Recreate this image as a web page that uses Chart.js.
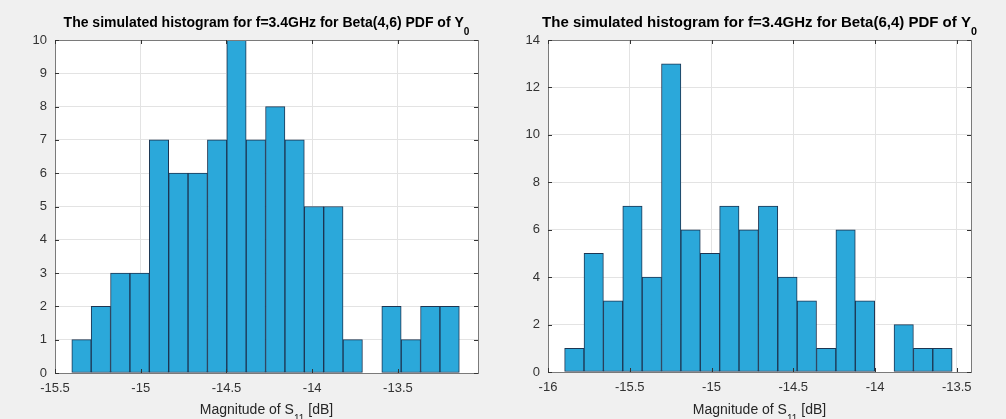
<!DOCTYPE html>
<html lang="en">
<head>
  <meta charset="UTF-8">
  <title>Simulated histograms</title>
  <script src="https://cdn.jsdelivr.net/npm/chart.js"></script>
  <style>
    body { margin: 0; background: #f0f0f0; font-family: "Liberation Sans", Arial, sans-serif; }
    .wrap { position: relative; width: 1006px; height: 419px; }
    .panel { position: absolute; top: 0; width: 503px; height: 419px; }
  </style>
</head>
<body>
  <div class="wrap">
    <div class="panel" style="left: 0;"><canvas id="histA" width="503" height="419"></canvas></div>
    <div class="panel" style="left: 503px;"><canvas id="histB" width="503" height="419"></canvas></div>
  </div>

  <script>
    // Beta(4,6) histogram: bin edges and counts
    const edgesA = [-15.402, -15.289, -15.176, -15.063, -14.950, -14.837, -14.724, -14.611, -14.498, -14.385,
                    -14.272, -14.159, -14.046, -13.933, -13.820, -13.707, -13.594, -13.481, -13.368, -13.255, -13.142];
    const countsA = [1, 2, 3, 3, 7, 6, 6, 7, 10, 7, 8, 7, 5, 5, 1, 0, 2, 1, 2, 2];
    const xTicksA = [-15.5, -15, -14.5, -14, -13.5];

    // Beta(6,4) histogram
    const edgesB = [-15.898, -15.780, -15.661, -15.543, -15.424, -15.306, -15.187, -15.069, -14.950, -14.832,
                    -14.713, -14.595, -14.476, -14.358, -14.239, -14.121, -14.002, -13.884, -13.765, -13.647, -13.528];
    const countsB = [1, 5, 3, 7, 4, 13, 6, 5, 7, 6, 7, 4, 3, 1, 6, 3, 0, 2, 1, 1];
    const xTicksB = [-16, -15.5, -15, -14.5, -14, -13.5];

    const FONT = '"Liberation Sans", Arial, sans-serif';

    // draws a line of text with subscript parts, centred on cx
    function drawSubText(ctx, parts, cx, y, size, bold, color) {
      const w = bold ? 'bold ' : '';
      let total = 0;
      parts.forEach(p => {
        ctx.font = w + (p.sub ? size * 0.72 : size) + 'px ' + FONT;
        p.w = ctx.measureText(p.t).width;
        total += p.w;
      });
      let x = cx - total / 2;
      ctx.fillStyle = color;
      ctx.textBaseline = 'alphabetic';
      ctx.textAlign = 'left';
      parts.forEach(p => {
        ctx.font = w + (p.sub ? size * 0.72 : size) + 'px ' + FONT;
        ctx.fillText(p.t, x, p.sub ? y + size * 0.55 : y);
        x += p.w;
      });
    }

    const matlabAxes = {
      id: 'matlabAxes',
      beforeDraw(chart) {
        const { ctx, chartArea: a } = chart;
        ctx.save();
        ctx.fillStyle = '#ffffff';
        ctx.fillRect(a.left, a.top, a.right - a.left, a.bottom - a.top);
        ctx.restore();
      },
      afterDraw(chart, args, opts) {
        const { ctx, chartArea: a, scales } = chart;
        ctx.save();
        ctx.strokeStyle = '#7a7a7a';
        ctx.lineWidth = 1;
        ctx.strokeRect(Math.round(a.left) + 0.5, Math.round(a.top) + 0.5,
                       Math.round(a.right - a.left), Math.round(a.bottom - a.top));
        // inward tick marks on all four sides
        ctx.strokeStyle = '#333';
        ctx.beginPath();
        scales.x.ticks.forEach(t => {
          const px = Math.round(scales.x.getPixelForValue(t.value)) + 0.5;
          ctx.moveTo(px, a.bottom); ctx.lineTo(px, a.bottom - 4);
          ctx.moveTo(px, a.top); ctx.lineTo(px, a.top + 4);
        });
        scales.y.ticks.forEach(t => {
          const py = Math.round(scales.y.getPixelForValue(t.value)) + 0.5;
          ctx.moveTo(a.left, py); ctx.lineTo(a.left + 4, py);
          ctx.moveTo(a.right, py); ctx.lineTo(a.right - 4, py);
        });
        ctx.stroke();
        const cx = (a.left + a.right) / 2;
        drawSubText(ctx, opts.title, cx, 27, opts.titleSize, true, '#000');
        drawSubText(ctx, [{ t: 'Magnitude of S' }, { t: '11', sub: true }, { t: ' [dB]' }], cx, 414, 14, false, '#262626');
        ctx.restore();
      }
    };

    function makeHist(id, edges, counts, xTicks, xMax, yMax, yStep, pad, yWidth, xHeight, title, titleSize) {
      const centers = counts.map((c, i) => ({ x: (edges[i] + edges[i + 1]) / 2, y: c }));
      return new Chart(document.getElementById(id), {
        type: 'bar',
        data: {
          datasets: [{
            data: centers,
            backgroundColor: '#2ba8da',
            borderColor: '#1d3552',
            borderWidth: 1,
            borderSkipped: false,
            barPercentage: 1,
            categoryPercentage: 1
          }]
        },
        options: {
          responsive: false,
          devicePixelRatio: 1,
          animation: false,
          layout: { padding: pad },
          plugins: {
            legend: { display: false },
            tooltip: { enabled: false },
            matlabAxes: { title: title, titleSize: titleSize }
          },
          scales: {
            x: {
              type: 'linear',
              offset: false,
              min: xTicks[0],
              max: xMax,
              afterBuildTicks: s => { s.ticks = xTicks.map(v => ({ value: v })); },
              afterFit: s => { s.height = xHeight; },
              grid: { color: '#e3e3e3', drawTicks: false, offset: false },
              border: { display: false },
              ticks: { padding: 8, color: '#333', font: { family: FONT, size: 13 }, callback: v => String(v), maxRotation: 0 }
            },
            y: {
              min: 0,
              max: yMax,
              afterFit: s => { s.width = yWidth; },
              grid: { color: '#e3e3e3', drawTicks: false },
              border: { display: false },
              ticks: { stepSize: yStep, padding: 8, color: '#333', font: { family: FONT, size: 13 } }
            }
          }
        },
        plugins: [matlabAxes]
      });
    }

    makeHist('histA', edgesA, countsA, xTicksA, -13.033, 10, 1,
      { top: 40, right: 25, left: 0, bottom: 0 }, 55, 46,
      [{ t: 'The simulated histogram for f=3.4GHz for Beta(4,6) PDF of Y' }, { t: '0', sub: true }], 14);

    makeHist('histB', edgesB, countsB, xTicksB, -13.413, 14, 2,
      { top: 40, right: 35, left: 0, bottom: 0 }, 45, 47,
      [{ t: 'The simulated histogram for f=3.4GHz for Beta(6,4) PDF of Y' }, { t: '0', sub: true }], 15);
  </script>
</body>
</html>
